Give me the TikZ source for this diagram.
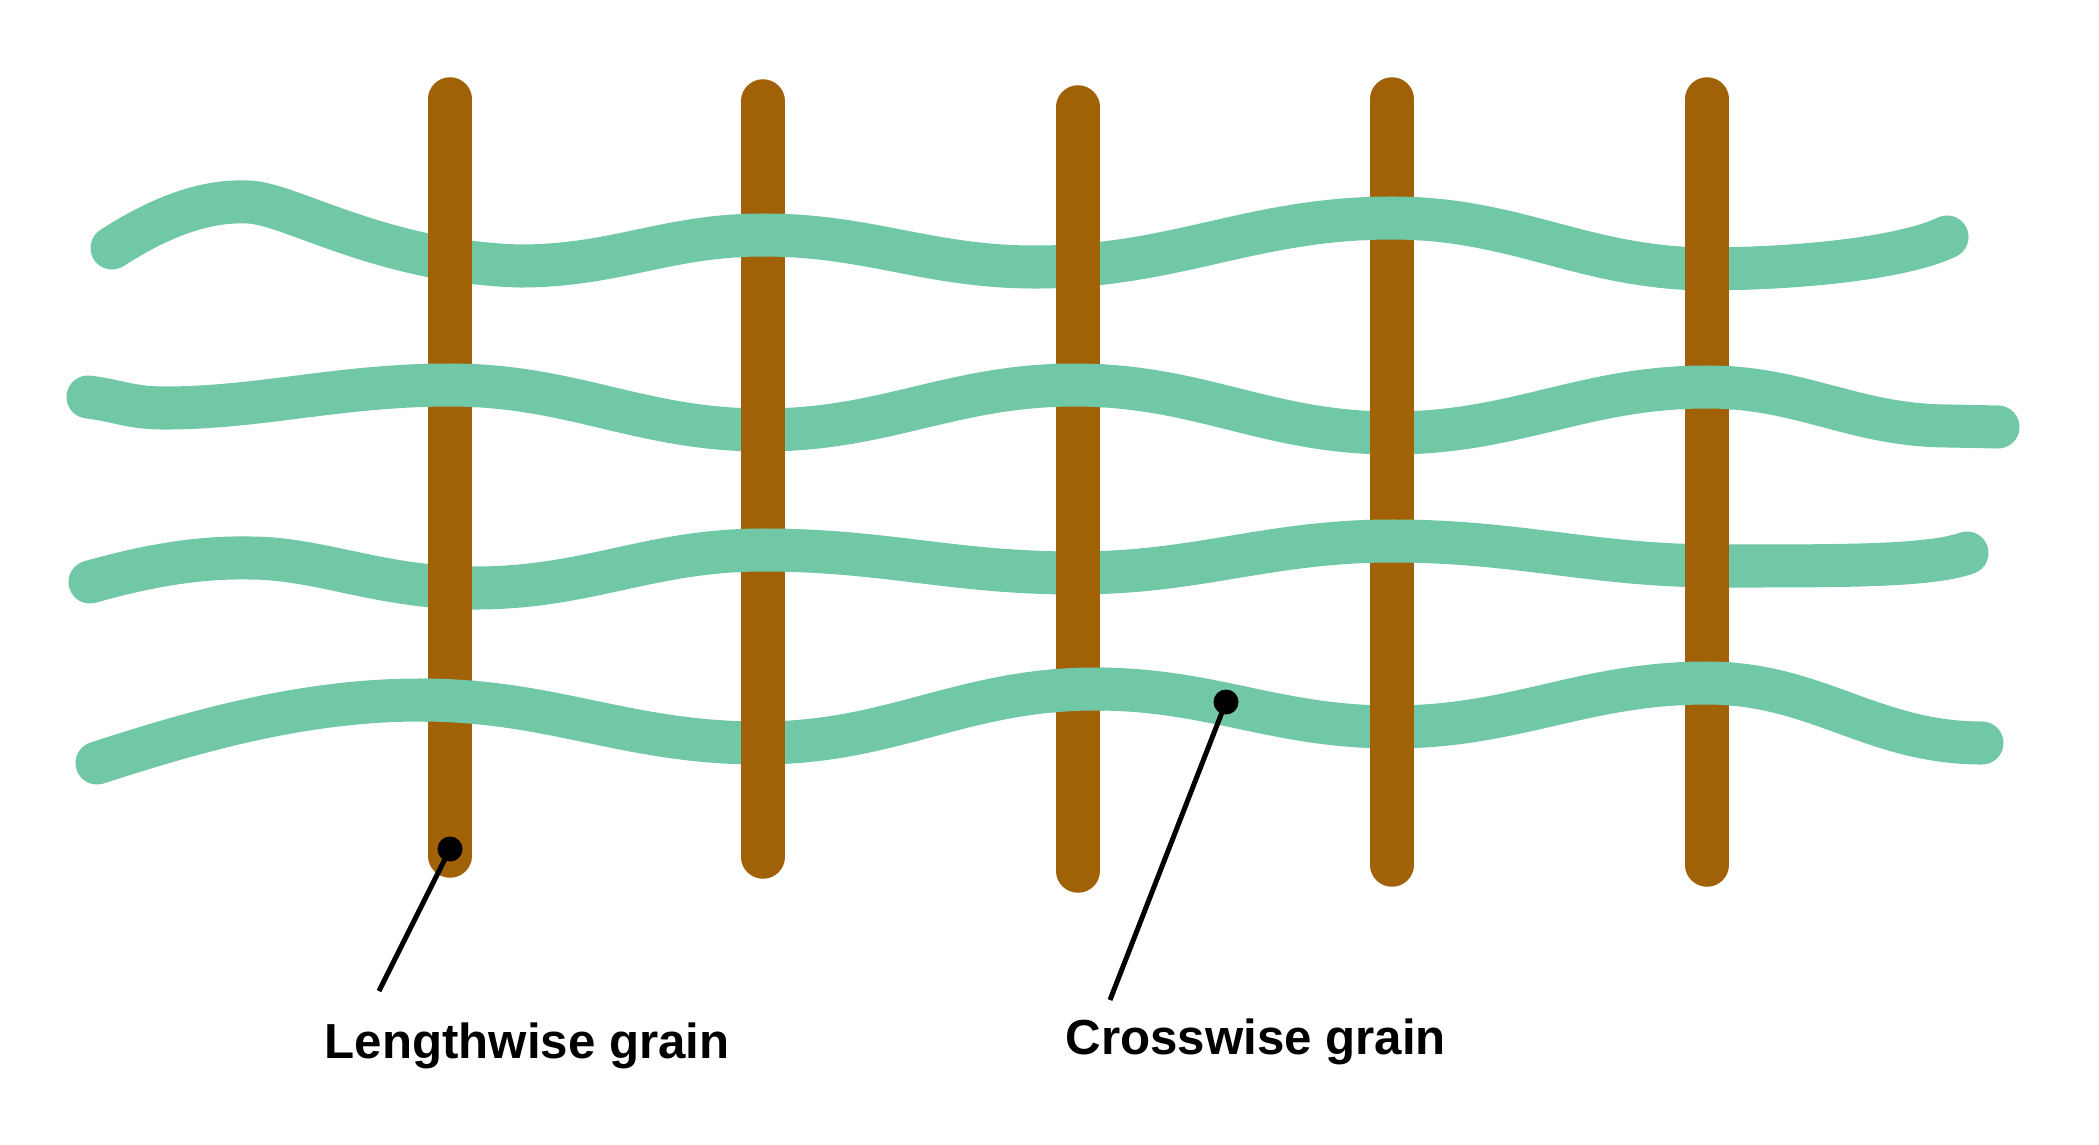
\documentclass[tikz,border=0pt]{standalone}
\usepackage{fontspec}
\setmainfont{Liberation Sans}
\definecolor{brn}{HTML}{A16207}
\definecolor{grn}{HTML}{71C8A7}
\tikzset{
  thread/.style={draw=grn, line width=0.43cm, line cap=round},
  warp/.style={draw=brn, line width=0.435cm, line cap=round},
  leader/.style={draw=black, line width=0.05cm},
  dot/.style={circle, fill=black, inner sep=0pt, minimum size=0.25cm},
  lbl/.style={font=\bfseries\fontsize{14}{16}\selectfont, anchor=base west, inner sep=0pt}
}
\newcommand\threadA{(112,248) .. controls (160,217) and (205,200) .. (248,202)
  .. controls (290,203) and (380,262) .. (520,266)
  to[out=0,in=180] (763,235) to[out=0,in=180] (1035,267)
  to[out=0,in=180] (1392,218) to[out=0,in=180] (1710,269)
  .. controls (1820,268) and (1910,255) .. (1947,237)}
\newcommand\threadB{(88,397) .. controls (120,401) and (130,408) .. (165,408)
  .. controls (260,408) and (340,385) .. (450,385)
  to[out=0,in=180] (763,430) to[out=0,in=180] (1075,385)
  to[out=0,in=180] (1392,433) to[out=0,in=180] (1707,387)
  to[out=0,in=180] (1950,426) -- (1998,427)}
\newcommand\threadC{(90,582) .. controls (150,565) and (200,557) .. (250,558)
  .. controls (320,558) and (380,588) .. (475,588)
  to[out=0,in=180] (763,550) to[out=0,in=180] (1075,573)
  to[out=0,in=180] (1392,541) to[out=0,in=180] (1720,566)
  .. controls (1850,566) and (1930,566) .. (1967,553)}
\newcommand\threadD{(97,763) .. controls (190,733) and (300,700) .. (420,700)
  to[out=0,in=180] (760,743) to[out=0,in=180] (1095,689)
  to[out=0,in=180] (1392,727) to[out=0,in=180] (1707,683)
  to[out=0,in=180] (1982,743)}
\newcommand\overpatch[3]{%
  \begin{scope}
    \clip (#1-26,#2-45) rectangle (#1+26,#2+45);
    \draw[thread] #3;
  \end{scope}}
\begin{document}
\begin{tikzpicture}[x=0.01cm, y=-0.01cm]
\useasboundingbox (0,0) rectangle (2099,1145);
\fill[white] (0,0) rectangle (2099,1145);
% weft threads (under layer)
\draw[thread] \threadA;
\draw[thread] \threadB;
\draw[thread] \threadC;
\draw[thread] \threadD;
% warp bars
\draw[warp] (450,99) -- (450,856);
\draw[warp] (763,101) -- (763,857);
\draw[warp] (1078,107) -- (1078,871);
\draw[warp] (1392,99) -- (1392,865);
\draw[warp] (1707,99) -- (1707,865);
% weft passing over warp
\overpatch{763}{235}{\threadA}
\overpatch{1392}{218}{\threadA}
\overpatch{450}{385}{\threadB}
\overpatch{1078}{385}{\threadB}
\overpatch{1707}{387}{\threadB}
\overpatch{763}{550}{\threadC}
\overpatch{1392}{541}{\threadC}
\overpatch{450}{700}{\threadD}
\overpatch{1078}{690}{\threadD}
\overpatch{1707}{683}{\threadD}
% labels
\node[dot] (d1) at (450,849) {};
\coordinate (e1) at (379,991);
\draw[leader] (d1.center) -- (e1);
\node[lbl] (l1) at (324,1058) {Lengthwise grain};
\node[dot] (d2) at (1226,702) {};
\coordinate (e2) at (1110,1000);
\draw[leader] (d2.center) -- (e2);
\node[lbl] (l2) at (1065,1054) {Crosswise grain};
\end{tikzpicture}
\end{document}
